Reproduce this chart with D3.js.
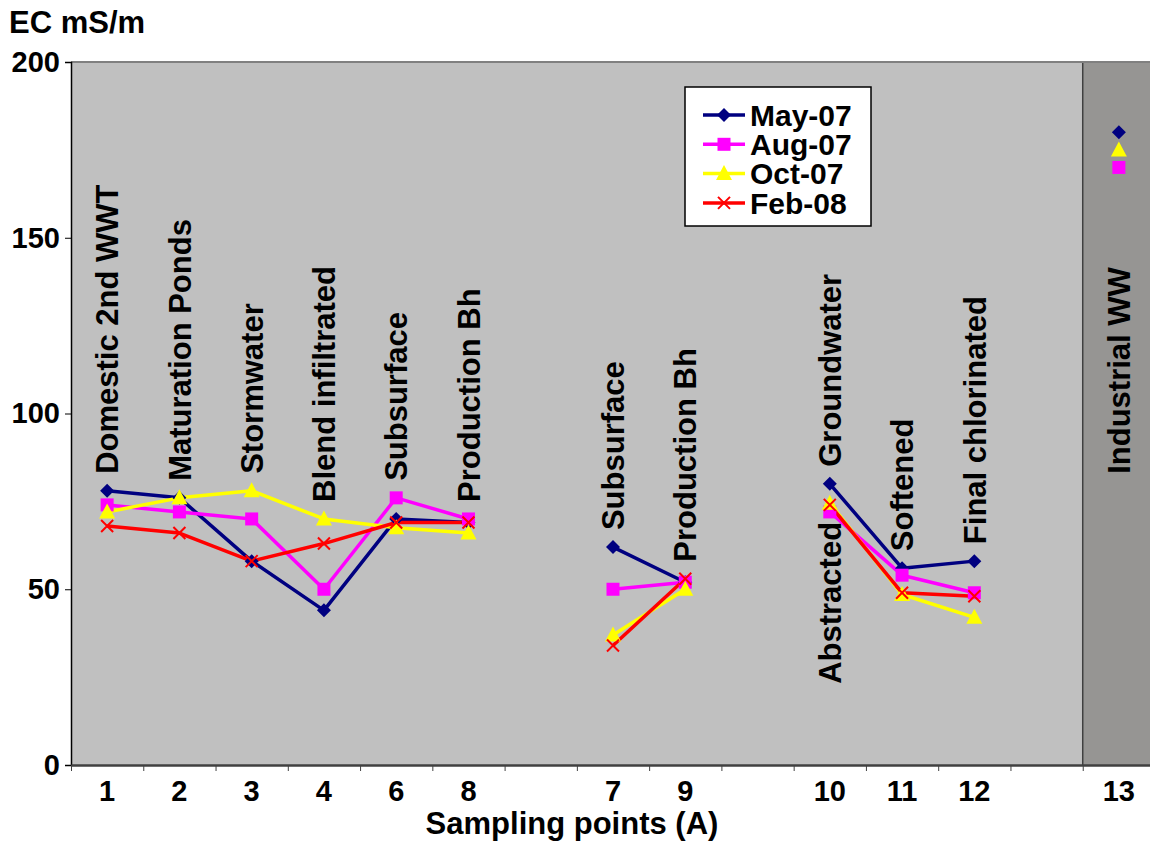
<!DOCTYPE html>
<html>
<head>
<meta charset="utf-8">
<script src="https://cdn.jsdelivr.net/npm/d3@7"></script>
<style>
    body { margin: 0; background: #ffffff; }
    svg { display: block; font-family: 'Liberation Sans', Arial, sans-serif; font-weight: bold; }
</style>
</head>
<body>
<div id="chart"></div>
<script>
// sampling point numbers along the axis, '' = gap between groups
var pointLabels = ['1', '2', '3', '4', '6', '8', '', '7', '9', '', '10', '11', '12', '', '13']
// names written above each sampling point
var pointNames = ['Domestic 2nd WWT', 'Maturation Ponds', 'Stormwater', 'Blend infiltrated', 'Subsurface', 'Production Bh', '',
    'Subsurface', 'Production Bh', '', 'Abstracted  Groundwater', 'Softened', 'Final chlorinated', '', 'Industrial WW']

var seriesNames = ['May-07', 'Aug-07', 'Oct-07', 'Feb-08']
var may07 = [78, 76, 58, 44, 70, 69, null, 62, 52, null, 80, 56, 58, null, 180]
var aug07 = [74, 72, 70, 50, 76, 70, null, 50, 52, null, 72, 54, 49, null, 170]
var oct07 = [72, 76, 78, 70, 67.5, 66, null, 37, 50, null, 74.5, 48.5, 42, null, 175]
var feb08 = [68, 66, 58, 63, 69, 69, null, 34, 53, null, 74, 49, 48, null, null]

var yTicks = [0, 50, 100, 150, 200]

var size = ({width: 1150, height: 845})
var plot = ({left: 71, top: 62, right: 1155, bottom: 765})

var colors = ['#000080', '#ff00ff', '#ffff00', '#ff0000']
var shapes = ['diamond', 'square', 'triangle', 'cross']

var series = [may07, aug07, oct07, feb08].map((vals, i) => ({name: seriesNames[i], values: vals, color: colors[i], shape: shapes[i]}))

var x = d3.scaleBand()
    .domain(d3.range(pointLabels.length))
    .range([plot.left, plot.right])

var edges = d3.scaleLinear()
    .domain([0, pointLabels.length])
    .range([plot.left, plot.right])

var y = d3.scaleLinear()
    .domain([0, 200])
    .range([plot.bottom, plot.top])

function markerPath(shape) {
    if (shape == 'diamond') return 'M0,-7L7,0L0,7L-7,0Z'
    if (shape == 'square') return 'M-6.5,-6.5H6.5V6.5H-6.5Z'
    if (shape == 'triangle') return 'M0,-8.5L8,6.5H-8Z'
    return 'M-6,-6L6,6M-6,6L6,-6'
}

function drawMarker(g, s) {
    g.append('path')
        .attr('d', markerPath(s.shape))
        .attr('fill', s.shape == 'cross' ? 'none' : s.color)
        .attr('stroke', s.shape == 'cross' ? s.color : 'none')
        .attr('stroke-width', 2)
}

const svg = d3.select('#chart')
    .append('svg')
    .attr('width', size.width)
    .attr('height', size.height)
    .style('overflow', 'hidden')

// plot background and the industrial band
svg.append('rect')
    .attr('x', plot.left).attr('y', plot.top)
    .attr('width', plot.right - plot.left).attr('height', plot.bottom - plot.top)
    .attr('fill', '#c0c0c0')

var lastIdx = pointLabels.length - 1
svg.append('rect')
    .attr('x', x(lastIdx)).attr('y', plot.top)
    .attr('width', x.bandwidth()).attr('height', plot.bottom - plot.top)
    .attr('fill', '#969593')

svg.append('line')
    .attr('x1', x(lastIdx)).attr('x2', x(lastIdx))
    .attr('y1', plot.top).attr('y2', plot.bottom)
    .attr('stroke', '#404040').attr('stroke-width', 1.5)

svg.append('line')
    .attr('x1', plot.left).attr('x2', plot.right)
    .attr('y1', plot.top).attr('y2', plot.top)
    .attr('stroke', '#808080').attr('stroke-width', 2)

// axes
var yAxis = svg.append('g')
    .attr('transform', `translate(${plot.left}, 0)`)
    .call(d3.axisLeft(y).tickValues(yTicks).tickSize(6).tickPadding(5))
yAxis.select('.domain').attr('stroke', '#000').attr('stroke-width', 1.5)
yAxis.selectAll('.tick line').attr('stroke', '#000')
yAxis.selectAll('text').attr('font-size', 29).attr('fill', '#000').attr('font-family', 'Liberation Sans, Arial').attr('font-weight', 'bold')

var xTicks = svg.append('g')
    .attr('transform', `translate(0, ${plot.bottom})`)
    .call(d3.axisBottom(edges).tickValues(d3.range(pointLabels.length + 1)).tickFormat('').tickSize(6).tickSizeOuter(0))
xTicks.select('.domain').attr('stroke', '#404040').attr('stroke-width', 2.5)
xTicks.selectAll('.tick line').attr('stroke', '#404040')

var xLabels = svg.append('g')
    .attr('transform', `translate(0, ${plot.bottom})`)
    .call(d3.axisBottom(x).tickFormat(i => pointLabels[i]).tickSize(0).tickPadding(15))
xLabels.select('.domain').remove()
xLabels.selectAll('text').attr('font-size', 29).attr('fill', '#000').attr('font-family', 'Liberation Sans, Arial').attr('font-weight', 'bold')

// axis titles
svg.append('text')
    .attr('x', 9).attr('y', 33)
    .attr('font-size', 31)
    .text('EC mS/m')

svg.append('text')
    .attr('x', 572).attr('y', 834)
    .attr('text-anchor', 'middle')
    .attr('font-size', 31)
    .text('Sampling points (A)')

// sampling point names, rotated, sitting above the highest value
var firstTop = y(d3.max(series, s => s.values[0])) - 17
pointNames.forEach((name, i) => {
    if (!name) return
    var vals = series.map(s => s.values[i]).filter(v => v != null)
    var top = i == lastIdx ? firstTop : y(d3.max(vals)) - 17
    var parts = name.split(/\s{2,}/)
    var cx = x(i) + x.bandwidth() / 2
    svg.append('text')
        .attr('transform', `translate(${cx}, ${top}) rotate(-90)`)
        .attr('dy', '0.36em')
        .attr('font-size', 31)
        .text(parts[parts.length - 1])
    if (parts.length > 1) {
        svg.append('text')
            .attr('transform', `translate(${cx}, ${y(d3.min(vals)) + 10}) rotate(-90)`)
            .attr('dy', '0.36em')
            .attr('text-anchor', 'end')
            .attr('font-size', 31)
            .text(parts[0])
    }
})

// series lines and markers
var line = d3.line()
    .defined(d => d != null)
    .x((d, i) => x(i) + x.bandwidth() / 2)
    .y(d => y(d))

series.forEach(s => {
    svg.append('path')
        .datum(s.values)
        .attr('fill', 'none')
        .attr('stroke', s.color)
        .attr('stroke-width', 3.5)
        .attr('stroke-linejoin', 'round')
        .attr('d', line)
})

series.forEach(s => {
    s.values.forEach((v, i) => {
        if (v == null) return
        var g = svg.append('g')
            .attr('transform', `translate(${x(i) + x.bandwidth() / 2}, ${y(v)})`)
        drawMarker(g, s)
    })
})

// legend
var legend = svg.append('g')
legend.append('rect')
    .attr('x', 685).attr('y', 87)
    .attr('width', 186).attr('height', 139)
    .attr('fill', '#fff')
    .attr('stroke', '#000')
    .attr('stroke-width', 1.5)

series.forEach((s, i) => {
    var row = legend.append('g')
        .attr('transform', `translate(703, ${115 + i * 29.3})`)
    row.append('line')
        .attr('x1', 0).attr('x2', 42)
        .attr('stroke', s.color).attr('stroke-width', 3.5)
    drawMarker(row.append('g').attr('transform', 'translate(21, 0)'), s)
    row.append('text')
        .attr('x', 47).attr('dy', '0.36em')
        .attr('font-size', 30)
        .text(s.name)
})
</script>
</body>
</html>
